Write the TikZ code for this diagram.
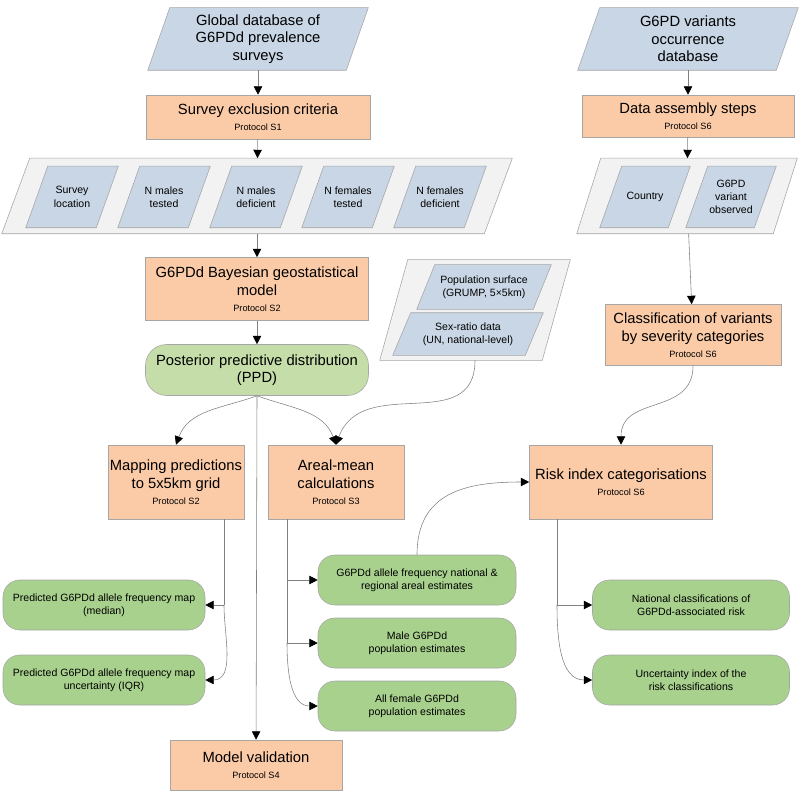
\documentclass[tikz,border=0pt]{standalone}
\usepackage{fontspec}
\setmainfont{Liberation Sans}
\usetikzlibrary{arrows.meta,calc,positioning}
\definecolor{peach}{HTML}{FBCBA8}
\definecolor{slate}{HTML}{C9D6E5}
\definecolor{pale}{HTML}{C5DDA8}
\definecolor{leaf}{HTML}{A9D18E}
\definecolor{frame}{HTML}{F2F2F2}
\newcommand\pxu{0.025cm}
\newcommand\proto[1]{\\[-1pt]{\fontsize{6.5}{7}\selectfont #1}}
\tikzset{
  stage/.style={draw=gray!70, fill=peach, align=center, inner sep=1pt, font=\fontsize{10.5}{12.5}\selectfont},
  data/.style={draw=none, align=center, inner sep=0pt, font=\fontsize{10.5}{12.5}\selectfont},
  field/.style={draw=none, align=center, inner sep=0pt, font=\fontsize{7.5}{9.5}\selectfont},
  pill/.style={draw=gray!70, fill=leaf, rounded corners=12pt, align=center, inner sep=1pt, font=\fontsize{7.5}{9.5}\selectfont},
  link/.style={draw=gray, -{Triangle[width=6pt,length=6pt,fill=black,color=black]}},
  wire/.style={draw=gray},
}
\newcommand\slanted[3]{% node, slant, fill
  \path[draw=gray!70, fill=#3] (#1.south west) -- ($(#1.north west)+(#2*\pxu,0)$) -- (#1.north east) -- ($(#1.south east)-(#2*\pxu,0)$) -- cycle;}
\begin{document}
\begin{tikzpicture}[x=0.025cm, y=-0.025cm]
\useasboundingbox (0,0) rectangle (808,800);

% left column inputs
\node[data, minimum width=220*\pxu, minimum height=62*\pxu] (global) at (258,39) {};
\slanted{global}{22}{slate}
\node[data] at (global) {Global database of\\G6PDd prevalence\\surveys};
\node[stage, minimum width=224*\pxu, minimum height=44*\pxu] (exclusion) at (258,117) {Survey exclusion criteria\proto{Protocol S1}};

\node[data, minimum width=510*\pxu, minimum height=75*\pxu] (survey) at (257,196) {};
\slanted{survey}{28}{frame}
\foreach \x/\t [count=\i] in {72/Survey\\location, 164/N males\\tested, 256/N males\\deficient, 348/N females\\tested, 440/N females\\deficient} {
  \node[field, minimum width=92*\pxu, minimum height=61*\pxu] (f\i) at (\x,197) {};
  \slanted{f\i}{22}{slate}
  \node[field] at (f\i) {\t};
}

\node[stage, minimum width=223*\pxu, minimum height=63*\pxu] (bayes) at (257,289) {G6PDd Bayesian geostatistical\\model\proto{Protocol S2}};
\node[stage, fill=pale, minimum width=223*\pxu, minimum height=51*\pxu, rounded corners=15pt] (ppd) at (257,370) {Posterior predictive distribution\\(PPD)};

% population inputs
\node[field, minimum width=190*\pxu, minimum height=100*\pxu] (popdata) at (475,310) {};
\slanted{popdata}{28}{frame}
\node[field, minimum width=134*\pxu, minimum height=44*\pxu] (pop) at (484,287) {};
\slanted{pop}{18}{slate}
\node[field] at (pop) {Population surface\\(GRUMP, 5×5km)};
\node[field, minimum width=150*\pxu, minimum height=42*\pxu] (sexratio) at (468,334) {};
\slanted{sexratio}{18}{slate}
\node[field] at (sexratio) {Sex-ratio data\\(UN, national-level)};

% right column inputs
\node[data, minimum width=220*\pxu, minimum height=62*\pxu] (variants) at (688,39) {};
\slanted{variants}{22}{slate}
\node[data] at (variants) {G6PD variants\\occurrence\\database};
\node[stage, minimum width=212*\pxu, minimum height=42*\pxu] (assembly) at (688,116) {Data assembly steps\proto{Protocol S6}};
\node[data, minimum width=220*\pxu, minimum height=75*\pxu] (variantdata) at (687,196) {};
\slanted{variantdata}{24}{frame}
\node[field, minimum width=90*\pxu, minimum height=61*\pxu] (country) at (645,197) {};
\slanted{country}{22}{slate}
\node[field] at (country) {Country};
\node[field, minimum width=90*\pxu, minimum height=61*\pxu] (observed) at (731,197) {};
\slanted{observed}{22}{slate}
\node[field] at (observed) {G6PD\\variant\\observed};
\node[stage, minimum width=176*\pxu, minimum height=61*\pxu] (severity) at (693,335) {Classification of variants\\by severity categories\proto{Protocol S6}};

% processing steps
\node[stage, minimum width=136*\pxu, minimum height=74*\pxu] (mapping) at (176,482) {Mapping predictions\\to 5x5km grid\proto{Protocol S2}};
\node[stage, minimum width=136*\pxu, minimum height=74*\pxu] (areal) at (336,482) {Areal-mean\\calculations\proto{Protocol S3}};
\node[stage, minimum width=183*\pxu, minimum height=74*\pxu] (risk) at (621,482) {Risk index categorisations\proto{Protocol S6}};
\node[stage, minimum width=172*\pxu, minimum height=50*\pxu] (validation) at (256,765) {Model validation\proto{Protocol S4}};

% outputs
\node[pill, minimum width=202*\pxu, minimum height=50*\pxu] (median) at (104,605) {Predicted G6PDd allele frequency map\\(median)};
\node[pill, minimum width=202*\pxu, minimum height=50*\pxu] (iqr) at (104,680) {Predicted G6PDd allele frequency map\\uncertainty (IQR)};
\node[pill, minimum width=198*\pxu, minimum height=50*\pxu] (national) at (417,580) {G6PDd allele frequency national \&\\regional areal estimates};
\node[pill, minimum width=198*\pxu, minimum height=50*\pxu] (male) at (417,643) {Male G6PDd\\population estimates};
\node[pill, minimum width=198*\pxu, minimum height=50*\pxu] (female) at (417,706) {All female G6PDd\\population estimates};
\node[pill, minimum width=197*\pxu, minimum height=50*\pxu] (classes) at (691,605) {National classifications of\\G6PDd-associated risk};
\node[pill, minimum width=197*\pxu, minimum height=50*\pxu] (uncert) at (691,680) {Uncertainty index of the\\risk classifications};

% connectors
\draw[link] (global) -- (exclusion);
\draw[link] (exclusion) -- (survey);
\draw[link] (survey) -- (bayes);
\draw[link] (bayes) -- (ppd);
\draw[link] (variants) -- (assembly);
\draw[link] (assembly) -- (variantdata);
\draw[link] (variantdata) -- (severity);
\draw[link] (ppd.south) -- (validation);
\draw[link] (ppd.south) to[out=-160, in=70] (mapping.north);
\draw[link] (ppd.south) to[out=-20, in=110] (areal.north);
\draw[link] (popdata.south) to[out=-90, in=70, looseness=1.2] (areal.north);
\draw[link] (severity.south) to[out=-90, in=90, looseness=1.2] (risk.north);
\draw[link] (national.north) to[out=90, in=180, looseness=1.2] (risk.west);

\coordinate (mapdrop) at ($(mapping.south)+(48,0)$);
\draw[wire] (mapdrop) -- (mapdrop |- median.east);
\draw[link] (mapdrop |- median.east) -- (median.east);
\draw[link] (mapdrop |- median.east) to[out=-90, in=0] (iqr.east);

\coordinate (arealdrop) at ($(areal.south)+(-49,0)$);
\draw[wire] (arealdrop) -- (arealdrop |- male.west);
\draw[link] (arealdrop |- national.west) -- (national.west);
\draw[link] (arealdrop |- male.west) -- (male.west);
\draw[link] (arealdrop |- male.west) to[out=-90, in=180] (female.west);

\coordinate (riskdrop) at ($(risk.south)+(-64,0)$);
\draw[wire] (riskdrop) -- (riskdrop |- classes.west);
\draw[link] (riskdrop |- classes.west) -- (classes.west);
\draw[link] (riskdrop |- classes.west) to[out=-90, in=180] (uncert.west);
\end{tikzpicture}
\end{document}
